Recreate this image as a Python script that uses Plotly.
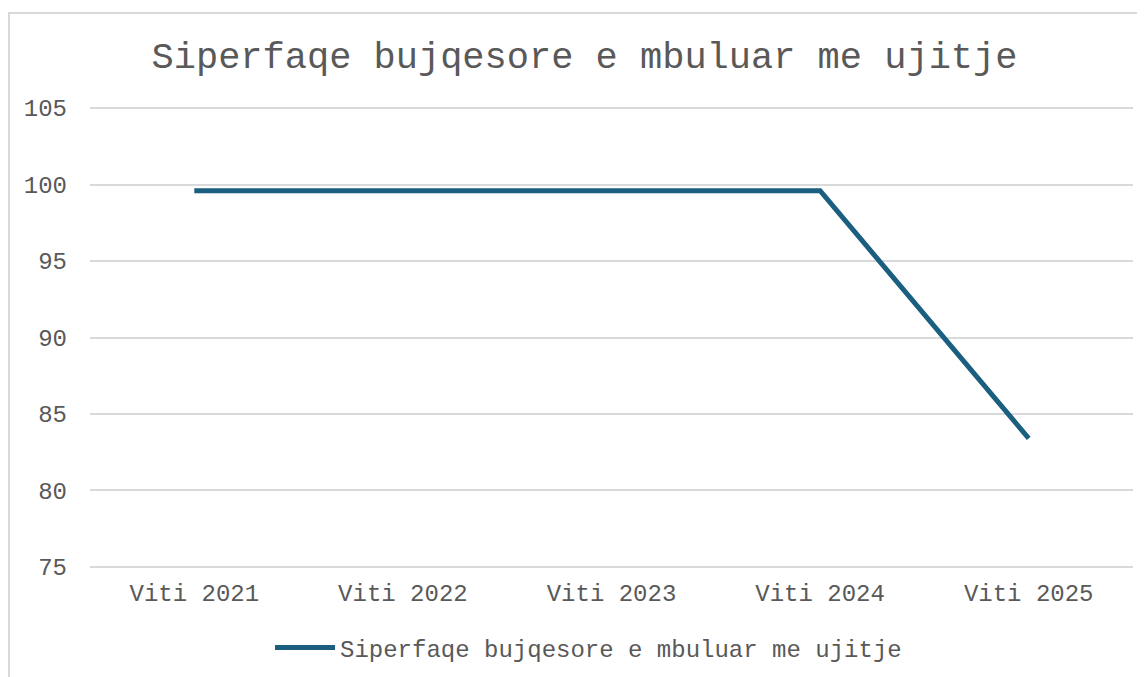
import plotly.graph_objects as go

categories = ["Viti 2021", "Viti 2022", "Viti 2023", "Viti 2024", "Viti 2025"]
values = [99.6, 99.6, 99.6, 99.6, 83.4]
series_name = "Siperfaqe bujqesore e mbuluar me ujitje"
title_text = "Siperfaqe bujqesore e mbuluar me ujitje"
y_ticks = [75, 80, 85, 90, 95, 100, 105]

FONT = "Liberation Mono, Courier New, monospace"
TXT = "#595959"

# page body has an 8px margin, so the figure is sized 8px smaller
W, H = 1137, 669
L, R, T, B = 82, 12, 97, 107
PW = W - L - R
PH = H - T - B

fig = go.Figure()
fig.add_trace(go.Scatter(
    x=categories, y=values, mode="lines", name=series_name,
    line=dict(color="#1a5e80", width=5),
))

fig.update_layout(
    width=W, height=H,
    margin=dict(l=L, r=R, t=T, b=B, autoexpand=False),
    paper_bgcolor="white", plot_bgcolor="white",
    title=dict(text=title_text, x=0.5 + 8 / W, xanchor="center", y=1 - 47 / H, yanchor="middle",
               font=dict(family=FONT, size=37, color=TXT)),
    font=dict(family=FONT, color=TXT),
    xaxis=dict(range=[-0.5, 4.5], showgrid=False, showline=False, zeroline=False, ticks="",
               tickfont=dict(family=FONT, size=24, color=TXT), ticklabelstandoff=6),
    yaxis=dict(range=[74.8, 105.2], tickvals=y_ticks, showgrid=True, gridcolor="#d9d9d9",
               gridwidth=2, zeroline=False, showline=False, ticks="",
               tickfont=dict(family=FONT, size=24, color=TXT), ticklabelstandoff=22),
    showlegend=True,
    legend=dict(orientation="h", x=0.5 - 23 / PW, xanchor="center", y=-(640 - (H - B)) / PH,
                yanchor="middle", font=dict(family=FONT, size=24, color=TXT), itemwidth=60),
    shapes=[dict(type="rect", xref="paper", yref="paper",
                 x0=(1 - L) / PW, x1=(W + 20 - L) / PW,
                 y0=-(H + 20 - (H - B)) / PH, y1=((H - B) - 5) / PH,
                 line=dict(color="#d9d9d9", width=2), fillcolor="rgba(0,0,0,0)", layer="below")],
)

fig.write_html("out.html")
